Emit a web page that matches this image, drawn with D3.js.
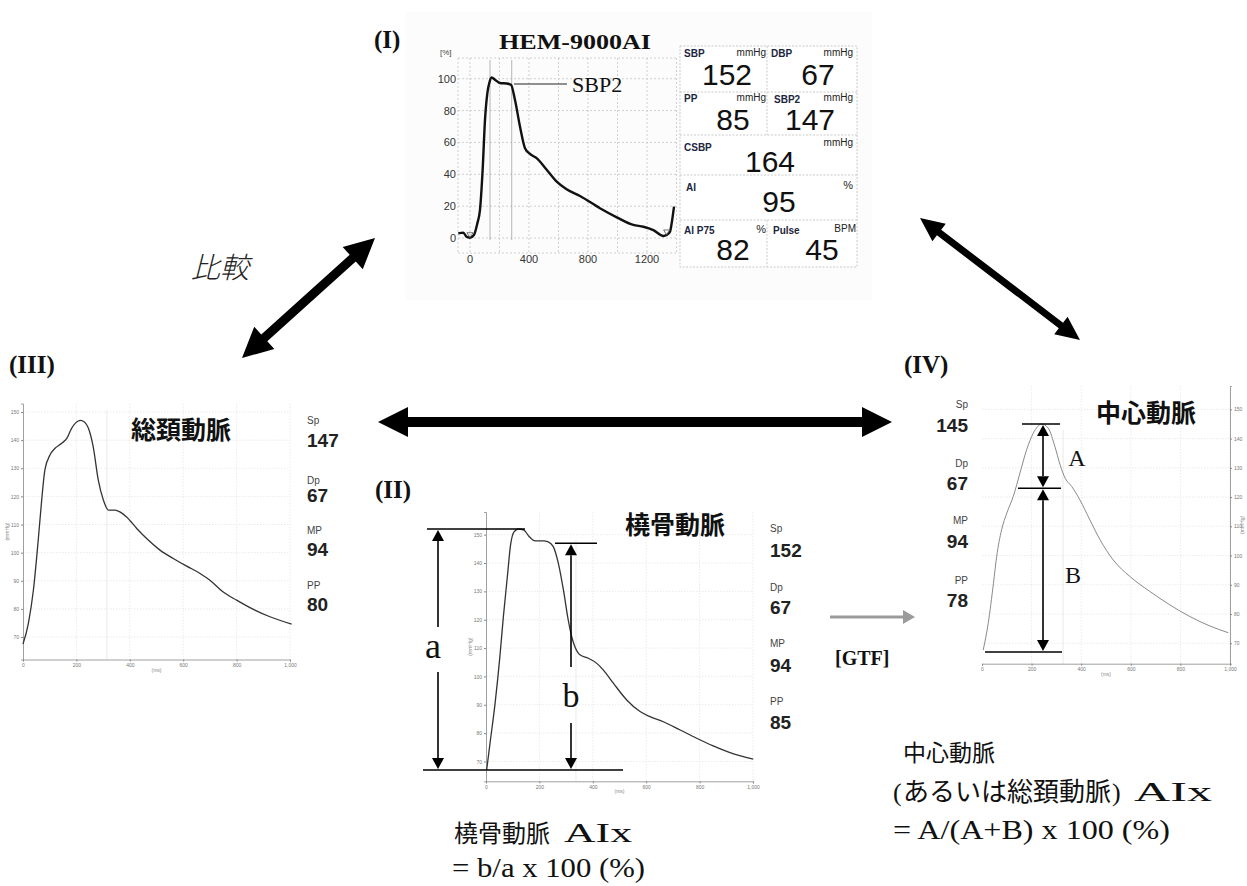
<!DOCTYPE html>
<html>
<head>
<meta charset="utf-8">
<script src="https://cdn.jsdelivr.net/npm/d3@7"></script>
<style>
  body { margin: 0; background: #fff; }
  svg { display: block; }
</style>
</head>
<body>
<svg id="chart" width="1247" height="886"></svg>
<script>
// ---------- (I) HEM-9000AI normalised radial waveform (% of pulse pressure) ----------
const hemTime = [-79, -45, -23, 0, 27, 50, 68, 86, 102, 118, 131, 147, 169, 203, 249, 278, 305, 339, 373, 407, 452, 520, 588, 655, 746, 881, 995, 1107, 1175, 1243, 1311, 1333, 1356, 1367, 1383];
const hemPct  = [2.9, 3.4, 0.8, 0.2, 1.9, 9.2, 17.6, 42.8, 74.2, 91, 97.3, 100.8, 99.4, 97.3, 97, 96.2, 86.8, 70, 56.4, 52.8, 50.1, 42.8, 35.4, 30.6, 26.4, 18.7, 13, 8.2, 7.1, 5, 1.3, 1.9, 4, 9.2, 19.7];
const hemYTicks = [0, 20, 40, 60, 80, 100];
const hemXTicks = [0, 400, 800, 1200];
const hemGridX = [0, 200, 400, 600, 800, 1000, 1200, 1400];
const hemMarkerTimes = [136, 283];

// device readout
const readoutLabels = ["SBP", "DBP", "PP", "SBP2", "CSBP", "AI", "AI P75", "Pulse"];
const readoutUnits  = ["mmHg", "mmHg", "mmHg", "mmHg", "mmHg", "%", "%", "BPM"];
const readoutValues = [152, 67, 85, 147, 164, 95, 82, 45];

// ---------- (III) common carotid artery (mmHg vs ms) ----------
const carotidTime = [0, 20, 39, 57, 70, 82, 101, 120, 145, 164, 182, 207, 215, 224, 245, 263, 282, 301, 320, 345, 363, 388, 426, 463, 513, 563, 613, 663, 700, 750, 800, 863, 925, 1006];
const carotidP    = [67.5, 74.8, 86.7, 104.4, 118.7, 129.4, 134.7, 137.1, 138.9, 140.6, 144.2, 146.8, 147, 146.8, 144.2, 137.6, 125.8, 118.7, 115.1, 115.1, 114.5, 112.7, 108.6, 105, 100.9, 97.9, 95.2, 92.6, 90.2, 86, 83.1, 79.8, 77.2, 74.6];
const carotidStats = [147, 67, 94, 80];

// ---------- (II) radial artery ----------
const radialTime = [2.5, 15, 34, 52, 65, 80, 92, 105, 121, 142, 162, 184, 215, 233, 252, 271, 290, 308, 321, 333, 352, 383, 415, 439, 477, 527, 577, 614, 664, 727, 789, 851, 914, 1001];
const radialP    = [67, 76.4, 90.5, 107, 121, 135.2, 146.4, 151, 152, 151.6, 149.3, 147.8, 147.8, 147.5, 145.8, 139.9, 130.5, 119.9, 114, 110.5, 107.6, 106.4, 104.6, 102.3, 97.6, 91.7, 87.6, 85.8, 84, 81.1, 78.2, 75.5, 73.1, 70.8];
const radialStats = [152, 67, 94, 85];
const radialSBP2 = 147;

// ---------- (IV) central aorta (via GTF) ----------
const centralTime = [5, 25, 46, 59, 79, 100, 126, 153, 180, 207, 241, 267, 294, 315, 335, 362, 395, 435, 476, 529, 597, 677, 758, 839, 919, 993];
const centralP    = [67.7, 76.8, 90.4, 99.6, 108.8, 114.5, 120.2, 128.2, 136.2, 141.9, 145, 143.6, 137.3, 131, 126.5, 123.6, 119, 112.2, 105.4, 98.5, 92.8, 87.7, 83.1, 79.1, 75.9, 73.6];
const centralStats = [145, 67, 94, 78];
const centralInflection = 123;

const statNames = ["Sp", "Dp", "MP", "PP"];
const pressureTicks = [70, 80, 90, 100, 110, 120, 130, 140, 150];
const msTicks = [0, 200, 400, 600, 800, 1000];

// ---------- drawing ----------
const svg = d3.select("#chart");
const SERIF = "'Liberation Serif', 'Times New Roman', serif";
const SANS = "'Liberation Sans', Arial, sans-serif";
const CJK = "'Noto Sans CJK JP', 'Noto Sans', sans-serif";

// filled double-headed arrow between two points
function doubleArrow(g, x1, y1, x2, y2, shaft, headLen, headW, fill) {
  const dx = x2 - x1, dy = y2 - y1, L = Math.hypot(dx, dy);
  const ux = dx / L, uy = dy / L, nx = -uy, ny = ux;
  const p = (t, s) => [x1 + ux * t + nx * s, y1 + uy * t + ny * s];
  const pts = [
    p(0, 0), p(headLen, headW / 2), p(headLen, shaft / 2), p(L - headLen, shaft / 2),
    p(L - headLen, headW / 2), p(L, 0), p(L - headLen, -headW / 2), p(L - headLen, -shaft / 2),
    p(headLen, -shaft / 2), p(headLen, -headW / 2)
  ];
  g.append("polygon").attr("points", pts.map(d => d.join(",")).join(" ")).attr("fill", fill);
}

// thin vertical measuring arrow with optional gap for its letter
function measureArrow(g, x, yTop, yBot, gap) {
  const hl = 11, hw = 6;
  g.append("path").attr("d", `M${x},${yTop}l${-hw},${hl}h${2 * hw}z`).attr("fill", "#000");
  g.append("path").attr("d", `M${x},${yBot}l${-hw},${-hl}h${2 * hw}z`).attr("fill", "#000");
  const segs = gap ? [[yTop + hl, gap[0]], [gap[1], yBot - hl]] : [[yTop + hl, yBot - hl]];
  segs.forEach(s => g.append("line").attr("x1", x).attr("x2", x).attr("y1", s[0]).attr("y2", s[1])
    .attr("stroke", "#000").attr("stroke-width", 1.6));
}

// ===== Panel (I) =====
const gI = svg.append("g");
gI.append("rect").attr("x", 406).attr("y", 12).attr("width", 466).attr("height", 288).attr("fill", "#fcfcfc");

const xI = d3.scaleLinear().domain([-81, 1410]).range([458, 678]);
const yI = d3.scaleLinear().domain([-9.4, 113]).range([253, 58]);

const gridI = gI.append("g").attr("stroke", "#c4c4c4").attr("stroke-dasharray", "2,2").attr("stroke-width", 0.8);
hemYTicks.concat([113, -9.4]).forEach(v => gridI.append("line").attr("x1", 458).attr("x2", 678).attr("y1", yI(v)).attr("y2", yI(v)));
hemGridX.concat([-81]).forEach(v => gridI.append("line").attr("x1", xI(v)).attr("x2", xI(v)).attr("y1", 58).attr("y2", 253));
hemMarkerTimes.forEach(v => gI.append("line").attr("x1", xI(v)).attr("x2", xI(v)).attr("y1", 60).attr("y2", 240)
  .attr("stroke", "#b5b5b5").attr("stroke-width", 1));

gI.selectAll("text.yl").data(hemYTicks).join("text").attr("class", "yl")
  .attr("x", 456).attr("y", d => yI(d) + 4).attr("text-anchor", "end")
  .attr("font-family", SANS).attr("font-size", 11).attr("fill", "#333").text(d => d);
gI.selectAll("text.xl").data(hemXTicks).join("text").attr("class", "xl")
  .attr("x", d => xI(d)).attr("y", 263).attr("text-anchor", "middle")
  .attr("font-family", SANS).attr("font-size", 11).attr("fill", "#333").text(d => d);
gI.append("text").attr("x", 440).attr("y", 55).attr("font-family", SANS).attr("font-size", 8).attr("fill", "#444").text("[%]");

const lineI = d3.line().x(d => xI(d[0])).y(d => yI(d[1])).curve(d3.curveMonotoneX);
gI.append("path").datum(d3.zip(hemTime, hemPct)).attr("d", lineI)
  .attr("fill", "none").attr("stroke", "#111").attr("stroke-width", 2.4).attr("stroke-linejoin", "round");

// foot markers
[[0, 0.2], [1333, 1.9]].forEach(d => gI.append("path")
  .attr("d", `M${xI(d[0]) - 3},${yI(d[1]) - 5}h6l-3,5z`).attr("fill", "none").attr("stroke", "#555").attr("stroke-width", 0.8));

// SBP2 leader
gI.append("line").attr("x1", 514).attr("x2", 567).attr("y1", 84).attr("y2", 84).attr("stroke", "#222").attr("stroke-width", 1.2);
gI.append("text").attr("x", 572).attr("y", 92).attr("font-family", SERIF).attr("font-size", 22).attr("fill", "#111").text("SBP2");

gI.append("text").attr("x", 499).attr("y", 49).attr("font-family", SERIF).attr("font-weight", "bold")
  .attr("font-size", 22).attr("textLength", 152).attr("lengthAdjust", "spacingAndGlyphs").attr("fill", "#111").text("HEM-9000AI");

// readout boxes
const boxG = gI.append("g").attr("stroke", "#c4c4c4").attr("stroke-dasharray", "2,1.5").attr("stroke-width", 0.9).attr("fill", "none");
boxG.append("rect").attr("x", 680).attr("y", 46).attr("width", 177).attr("height", 221).attr("fill", "#fff");
[92, 135, 175, 220].forEach(y => boxG.append("line").attr("x1", 680).attr("x2", 857).attr("y1", y).attr("y2", y));
[[46, 135], [220, 267]].forEach(s => boxG.append("line").attr("x1", 767).attr("x2", 767).attr("y1", s[0]).attr("y2", s[1]));

const cellLayout = [
  { lx: 684, ly: 57, ux: 766, uy: 56, vx: 727, vy: 85 },
  { lx: 771, ly: 57, ux: 853, uy: 56, vx: 818, vy: 85 },
  { lx: 684, ly: 102, ux: 766, uy: 100.5, vx: 733, vy: 130 },
  { lx: 774, ly: 102.5, ux: 853, uy: 100.5, vx: 810, vy: 130 },
  { lx: 684, ly: 151, ux: 853, uy: 146, vx: 770, vy: 172 },
  { lx: 686, ly: 191, ux: 853, uy: 189, vx: 779, vy: 212 },
  { lx: 684, ly: 234, ux: 766, uy: 233, vx: 733, vy: 260 },
  { lx: 773, ly: 234, ux: 856, uy: 232, vx: 822, vy: 260 }
];
readoutLabels.forEach((lab, i) => {
  const c = cellLayout[i];
  gI.append("text").attr("x", c.lx).attr("y", c.ly).attr("font-family", SANS).attr("font-weight", "bold")
    .attr("font-size", 10).attr("fill", "#1c2540").text(lab);
  gI.append("text").attr("x", c.ux).attr("y", c.uy).attr("text-anchor", "end").attr("font-family", SANS)
    .attr("font-size", readoutUnits[i] === "%" ? 11 : 10).attr("fill", "#222").text(readoutUnits[i]);
  gI.append("text").attr("x", c.vx).attr("y", c.vy).attr("text-anchor", "middle").attr("font-family", SANS)
    .attr("font-size", 30).attr("fill", "#111").text(readoutValues[i]);
});

// ===== generic pressure-waveform panel =====
function wavePanel(opt) {
  const g = svg.append("g");
  const x = d3.scaleLinear().domain([0, 1000]).range(opt.xRange);
  const y = d3.scaleLinear().domain(opt.yDomain).range(opt.yRange);
  const grid = g.append("g").attr("stroke", "#e2e2e2").attr("stroke-dasharray", "1.5,1.5").attr("stroke-width", 0.7);
  pressureTicks.forEach(v => grid.append("line").attr("x1", opt.xRange[0]).attr("x2", opt.xRange[1]).attr("y1", y(v)).attr("y2", y(v)));
  msTicks.slice(1).forEach(v => grid.append("line").attr("x1", x(v)).attr("x2", x(v)).attr("y1", opt.yRange[1]).attr("y2", opt.yRange[0]));
  if (opt.markerMs) g.append("line").attr("x1", x(opt.markerMs)).attr("x2", x(opt.markerMs))
    .attr("y1", opt.markerTop).attr("y2", opt.yRange[0]).attr("stroke", "#e4e4e4").attr("stroke-width", 0.8);

  const yAxis = (opt.axisRight ? d3.axisRight(y) : d3.axisLeft(y)).tickValues(pressureTicks).tickSize(2).tickPadding(2);
  const ya = g.append("g").attr("transform", `translate(${opt.axisRight ? opt.xRange[1] : opt.xRange[0]},0)`).call(yAxis);
  const xa = g.append("g").attr("transform", `translate(0,${opt.yRange[0]})`)
    .call(d3.axisBottom(x).tickValues(msTicks).tickFormat(d3.format(",")).tickSize(2).tickPadding(2));
  [ya, xa].forEach(a => {
    a.select(".domain").attr("stroke", "#888").attr("stroke-width", 0.8);
    a.selectAll(".tick line").attr("stroke", "#888");
    a.selectAll(".tick text").attr("font-size", 5).attr("fill", "#777").attr("font-family", SANS);
  });
  g.append("text").attr("x", (opt.xRange[0] + opt.xRange[1]) / 2).attr("y", opt.yRange[0] + 12)
    .attr("text-anchor", "middle").attr("font-size", 5).attr("fill", "#888").attr("font-family", SANS).text("(ms)");
  const ax = opt.axisRight ? opt.xRange[1] + 14 : opt.xRange[0] - 14;
  const ay = (opt.yRange[0] + opt.yRange[1]) / 2;
  g.append("text").attr("transform", `translate(${ax},${ay}) rotate(-90)`).attr("text-anchor", "middle")
    .attr("font-size", 5).attr("fill", "#888").attr("font-family", SANS).text("(mmHg)");

  const line = d3.line().x(d => x(d[0])).y(d => y(d[1])).curve(d3.curveMonotoneX);
  g.append("path").datum(d3.zip(opt.time, opt.p)).attr("d", line)
    .attr("fill", "none").attr("stroke", opt.stroke).attr("stroke-width", opt.width);

  g.append("text").attr("x", opt.title[1]).attr("y", opt.title[2]).attr("text-anchor", "middle")
    .attr("font-family", CJK).attr("font-weight", "bold").attr("font-size", 25).attr("fill", "#111").text(opt.title[0]);

  opt.stats.forEach((v, i) => {
    const s = opt.statPos[i];
    g.append("text").attr("x", opt.statX).attr("y", s[0]).attr("text-anchor", opt.statAnchor)
      .attr("font-family", SANS).attr("font-size", 10).attr("fill", "#444").text(statNames[i]);
    g.append("text").attr("x", opt.statX).attr("y", s[1]).attr("text-anchor", opt.statAnchor)
      .attr("font-family", SANS).attr("font-weight", "bold").attr("font-size", 19).attr("fill", "#222").text(v);
  });
  return { g, x, y };
}

// (III) carotid
wavePanel({
  xRange: [23, 290], yDomain: [62, 153], yRange: [659.5, 403.6],
  time: carotidTime, p: carotidP, stroke: "#333", width: 1.3,
  markerMs: 314, markerTop: 410,
  title: ["総頚動脈", 181, 439],
  stats: carotidStats, statX: 307, statAnchor: "start",
  statPos: [[424, 447], [484, 502], [534, 556], [589, 611]]
});

// (II) radial
const pII = wavePanel({
  xRange: [486, 753], yDomain: [63, 158], yRange: [781.3, 512],
  time: radialTime, p: radialP, stroke: "#333", width: 1.3,
  markerMs: 337, markerTop: 540,
  title: ["橈骨動脈", 675, 534],
  stats: radialStats, statX: 770, statAnchor: "start",
  statPos: [[532, 557], [591, 614], [647, 672], [705, 729]]
});
{
  const { g, y } = pII;
  const top = y(radialStats[0]), base = y(radialStats[1]), sbp2 = y(radialSBP2);
  [[427, 525, top], [555, 597, sbp2], [423, 623, base]].forEach(l => g.append("line")
    .attr("x1", l[0]).attr("x2", l[1]).attr("y1", l[2]).attr("y2", l[2]).attr("stroke", "#000").attr("stroke-width", 1.6));
  measureArrow(g, 438, top + 1, base - 1, [627, 672]);
  measureArrow(g, 571, sbp2 + 1, base - 1, [667, 723]);
  g.append("text").attr("x", 433).attr("y", 658).attr("text-anchor", "middle").attr("font-family", SERIF)
    .attr("font-size", 36).attr("fill", "#111").text("a");
  g.append("text").attr("x", 571).attr("y", 707).attr("text-anchor", "middle").attr("font-family", SERIF)
    .attr("font-size", 34).attr("fill", "#111").text("b");
}

// (IV) central
const pIV = wavePanel({
  xRange: [982, 1230], yDomain: [63, 158], yRange: [663.7, 386],
  time: centralTime, p: centralP, stroke: "#8a8a8a", width: 1,
  markerMs: 327, markerTop: 430,
  axisRight: true,
  title: ["中心動脈", 1146, 422],
  stats: centralStats, statX: 968, statAnchor: "end",
  statPos: [[408, 432], [467, 490], [524, 548], [584, 607]]
});
{
  const { g, y } = pIV;
  const top = y(centralStats[0]), mid = y(centralInflection), base = y(centralStats[1]);
  [[1022, 1060, top], [1018, 1061, mid], [985, 1062, base]].forEach(l => g.append("line")
    .attr("x1", l[0]).attr("x2", l[1]).attr("y1", l[2]).attr("y2", l[2]).attr("stroke", "#000").attr("stroke-width", 1.6));
  measureArrow(g, 1043, top + 1, mid - 1, null);
  measureArrow(g, 1043, mid + 1, base - 1, null);
  g.append("text").attr("x", 1077).attr("y", 466).attr("text-anchor", "middle").attr("font-family", SERIF)
    .attr("font-size", 24).attr("fill", "#111").text("A");
  g.append("text").attr("x", 1073).attr("y", 583).attr("text-anchor", "middle").attr("font-family", SERIF)
    .attr("font-size", 24).attr("fill", "#111").text("B");
}

// ===== connecting arrows =====
const arrows = svg.append("g");
doubleArrow(arrows, 375, 238, 242, 358, 9, 30, 30, "#000");
doubleArrow(arrows, 920, 218, 1080, 340, 7, 24, 22, "#000");
doubleArrow(arrows, 378, 422, 892, 422, 10, 30, 30, "#000");
arrows.append("line").attr("x1", 830).attr("x2", 904).attr("y1", 617).attr("y2", 617).attr("stroke", "#9b9b9b").attr("stroke-width", 3.2);
arrows.append("path").attr("d", "M915,617l-12,-7v14z").attr("fill", "#9b9b9b");

// ===== labels =====
const T = svg.append("g");
[["(I)", 374, 48], ["(III)", 9, 373], ["(II)", 375, 498], ["(IV)", 904, 373]].forEach(d =>
  T.append("text").attr("x", d[1]).attr("y", d[2]).attr("font-family", SERIF).attr("font-weight", "bold")
    .attr("font-size", 25).attr("fill", "#111").text(d[0]));
T.append("text").attr("x", 835).attr("y", 665).attr("font-family", SERIF).attr("font-weight", "bold")
  .attr("font-size", 20).attr("fill", "#111").text("[GTF]");
T.append("text").attr("x", 191).attr("y", 278).attr("font-family", CJK).attr("font-style", "italic")
  .attr("font-weight", 300).attr("font-size", 29).attr("fill", "#222").text("比較");

// formulas
T.append("text").attr("x", 454).attr("y", 842).attr("font-family", CJK).attr("font-size", 24).attr("fill", "#111").text("橈骨動脈");
T.append("text").attr("x", 564).attr("y", 842).attr("font-family", SERIF).attr("font-size", 28)
  .attr("textLength", 68).attr("lengthAdjust", "spacingAndGlyphs").attr("fill", "#111").text("AIx");
T.append("text").attr("x", 452).attr("y", 877).attr("font-family", SERIF).attr("font-size", 27)
  .attr("textLength", 193).attr("lengthAdjust", "spacingAndGlyphs").attr("fill", "#111").text("= b/a x 100 (%)");

T.append("text").attr("x", 903).attr("y", 761).attr("font-family", CJK).attr("font-size", 23).attr("fill", "#111").text("中心動脈");
T.append("text").attr("x", 893).attr("y", 801).attr("font-family", SERIF).attr("font-size", 26).attr("fill", "#111").text("(");
T.append("text").attr("x", 903).attr("y", 801).attr("font-family", CJK).attr("font-size", 26)
  .attr("textLength", 208).attr("lengthAdjust", "spacingAndGlyphs").attr("fill", "#111").text("あるいは総頚動脈");
T.append("text").attr("x", 1112).attr("y", 801).attr("font-family", SERIF).attr("font-size", 26).attr("fill", "#111").text(")");
T.append("text").attr("x", 1134).attr("y", 801).attr("font-family", SERIF).attr("font-size", 28)
  .attr("textLength", 78).attr("lengthAdjust", "spacingAndGlyphs").attr("fill", "#111").text("AIx");
T.append("text").attr("x", 893).attr("y", 839).attr("font-family", SERIF).attr("font-size", 27)
  .attr("textLength", 277).attr("lengthAdjust", "spacingAndGlyphs").attr("fill", "#111").text("= A/(A+B) x 100 (%)");
</script>
</body>
</html>
